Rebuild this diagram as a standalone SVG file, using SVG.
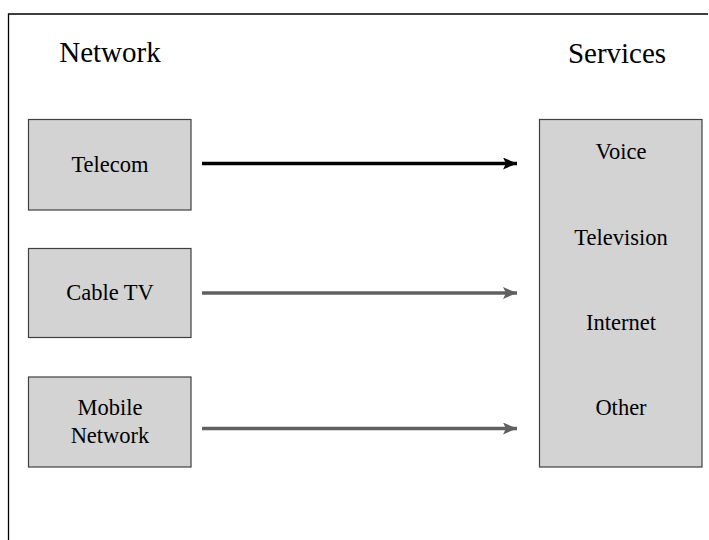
<svg xmlns="http://www.w3.org/2000/svg" width="709" height="540" viewBox="0 0 709 540">
<style>
text{fill:#000;text-anchor:middle;font-family:"Liberation Serif","Times New Roman",Times,Tinos,"Nimbus Roman","Nimbus Roman No9 L",FreeSerif,"DejaVu Serif","Noto Serif",serif}
.title{font-size:29px}
.lbl{font-size:22.5px}
.box{fill:#d3d3d3;stroke:#404040;stroke-width:1.2}
.frame{fill:none;stroke:#000;stroke-width:1.3}
</style>
<defs>
<marker id="ahB" markerUnits="userSpaceOnUse" markerWidth="16" markerHeight="14" refX="14" refY="6" orient="auto"><path d="M0,0 L14,6 L0,12 L3,6 Z" fill="#000"/></marker>
<marker id="ahG" markerUnits="userSpaceOnUse" markerWidth="16" markerHeight="14" refX="14" refY="6" orient="auto"><path d="M0,0 L14,6 L0,12 L3,6 Z" fill="#606060"/></marker>
</defs>
<rect width="709" height="540" fill="#fff"/>
<path class="frame" d="M8.5,540 V14 H708"/>
<text class="title" x="110" y="62" id="t-network">Network</text>
<text class="title" x="617" y="63" id="t-services">Services</text>
<g id="telecom"><rect class="box" x="28.5" y="119.5" width="162.5" height="90.5"/><text class="lbl" x="110" y="172">Telecom</text></g>
<g id="cabletv"><rect class="box" x="28.5" y="248.5" width="162.5" height="89"/><text class="lbl" x="110" y="300">Cable TV</text></g>
<g id="mobile"><rect class="box" x="28.5" y="377" width="162.5" height="90"/><text class="lbl" x="110" y="415">Mobile</text><text class="lbl" x="110" y="443">Network</text></g>
<g id="services"><rect class="box" x="539.5" y="119.5" width="162.5" height="347.5"/>
<text class="lbl" x="621" y="159">Voice</text>
<text class="lbl" x="621" y="245">Television</text>
<text class="lbl" x="621" y="330">Internet</text>
<text class="lbl" x="621" y="415">Other</text></g>
<g id="connectors">
<line x1="202" y1="163.5" x2="517" y2="163.5" stroke="#000" stroke-width="3.5" marker-end="url(#ahB)"/>
<line x1="202" y1="293" x2="517" y2="293" stroke="#606060" stroke-width="3.5" marker-end="url(#ahG)"/>
<line x1="202" y1="428.5" x2="517" y2="428.5" stroke="#606060" stroke-width="3.5" marker-end="url(#ahG)"/>
</g>
</svg>
